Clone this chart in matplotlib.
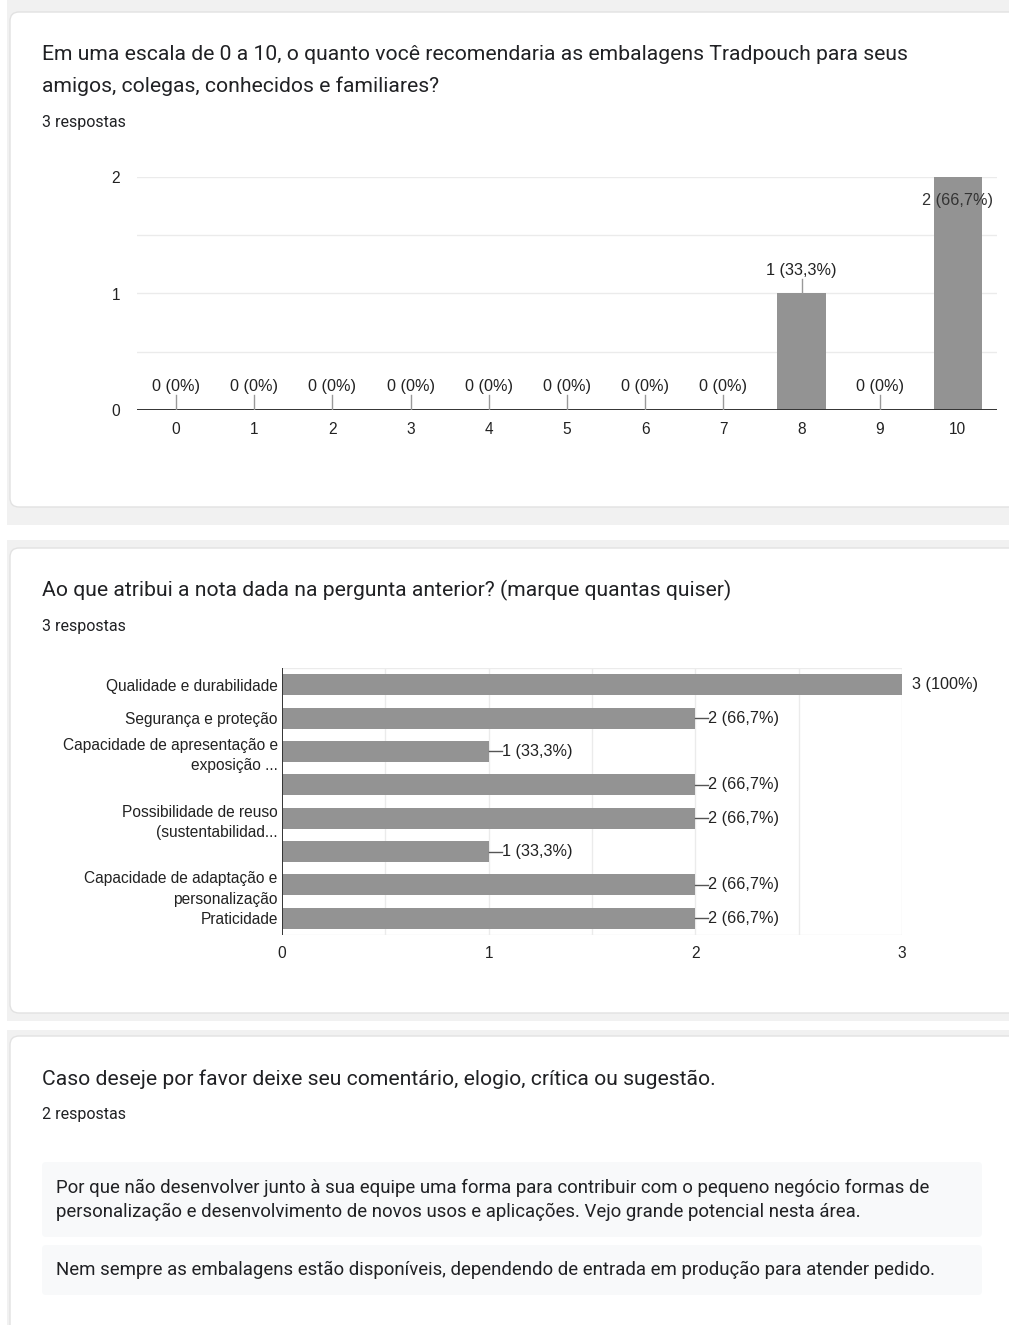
import matplotlib
matplotlib.use("Agg")
import matplotlib.pyplot as plt
from matplotlib.patches import FancyBboxPatch, Rectangle

# --- data -------------------------------------------------------------------
q1_title = ["Em uma escala de 0 a 10, o quanto você recomendaria as embalagens Tradpouch para seus",
            "amigos, colegas, conhecidos e familiares?"]
q1_count = "3 respostas"
q1_scores = list(range(11))
q1_values = [0, 0, 0, 0, 0, 0, 0, 0, 1, 0, 2]
q1_labels = ["0 (0%)"] * 8 + ["1 (33,3%)", "0 (0%)", "2 (66,7%)"]

q2_title = "Ao que atribui a nota dada na pergunta anterior? (marque quantas quiser)"
q2_count = "3 respostas"
q2_categories = ["Qualidade e durabilidade",
                 "Segurança e proteção",
                 "Capacidade de apresentação e\nexposição ...",
                 "",
                 "Possibilidade de reuso\n(sustentabilidad...",
                 "",
                 "Capacidade de adaptação e\npersonalização",
                 "Praticidade"]
q2_values = [3, 2, 1, 2, 2, 1, 2, 2]
q2_labels = ["3 (100%)", "2 (66,7%)", "1 (33,3%)", "2 (66,7%)",
             "2 (66,7%)", "1 (33,3%)", "2 (66,7%)", "2 (66,7%)"]

q3_title = "Caso deseje por favor deixe seu comentário, elogio, crítica ou sugestão."
q3_count = "2 respostas"
q3_answers = ["Por que não desenvolver junto à sua equipe uma forma para contribuir com o pequeno negócio formas de\n"
              "personalização e desenvolvimento de novos usos e aplicações. Vejo grande potencial nesta área.",
              "Nem sempre as embalagens estão disponíveis, dependendo de entrada em produção para atender pedido."]

# --- figure -----------------------------------------------------------------
W, H = 1009, 1325
fig = plt.figure(figsize=(W / 100, H / 100), dpi=100, facecolor="white")

PT = 0.72  # px -> pt at 100 dpi
TITLE_FONT = ["Roboto", "DejaVu Sans"]
CHART_FONT = ["Liberation Sans", "DejaVu Sans"]
TXT = "#202124"
CH_TXT = "#222222"
BAR = "#939393"
GRID = "#ebebeb"
T_SIZE = 21.2 * PT
C_SIZE = 16 * PT
LAB_SIZE = 16.2 * PT
TICK_SIZE = 15.5 * PT


def px_axes(x0, y0, x1, y1, **kw):
    return fig.add_axes([x0 / W, 1 - y1 / H, (x1 - x0) / W, (y1 - y0) / H], **kw)


# background layer in pixel coordinates
bg = px_axes(0, 0, W, H)
bg.set_xlim(0, W)
bg.set_ylim(H, 0)
bg.axis("off")

for y0, y1 in [(0, 525), (540, 1021), (1030, H + 5)]:
    bg.add_patch(Rectangle((7, y0), W, y1 - y0, color="#f1f1f1", lw=0))
for y0, y1 in [(12, 507), (548, 1013), (1036, H + 20)]:
    bg.add_patch(FancyBboxPatch((10, y0), W + 20, y1 - y0,
                                boxstyle="round,pad=0,rounding_size=9",
                                fc="white", ec="#e2e2e2", lw=1))

# card texts
bg.text(42, 54, q1_title[0], fontsize=T_SIZE, color=TXT, family=TITLE_FONT, va="center")
bg.text(42, 86, q1_title[1], fontsize=T_SIZE, color=TXT, family=TITLE_FONT, va="center")
bg.text(42, 122, q1_count, fontsize=C_SIZE, color=TXT, family=TITLE_FONT, va="center")

bg.text(42, 590, q2_title, fontsize=T_SIZE, color=TXT, family=TITLE_FONT, va="center")
bg.text(42, 627, q2_count, fontsize=C_SIZE, color=TXT, family=TITLE_FONT, va="center")

bg.text(42, 1079, q3_title, fontsize=T_SIZE, color=TXT, family=TITLE_FONT, va="center")
bg.text(42, 1115, q3_count, fontsize=C_SIZE, color=TXT, family=TITLE_FONT, va="center")

# response boxes
for (y0, y1), ans in zip([(1162, 1237), (1245, 1295)], q3_answers):
    bg.add_patch(FancyBboxPatch((42, y0), 940, y1 - y0,
                                boxstyle="round,pad=0,rounding_size=4",
                                fc="#f8f9fa", ec="none"))
    bg.text(56, (y0 + y1) / 2, ans, fontsize=18.6 * PT, color=TXT, family=TITLE_FONT,
            va="center", linespacing=1.42)

# --- chart 1: vertical columns ---------------------------------------------
ax1 = px_axes(137, 177, 997, 410)
ax1.patch.set_visible(False)
ax1.set_xlim(-0.5, 10.5)
ax1.set_ylim(0, 2)
ax1.bar(q1_scores, q1_values, width=0.62, color=BAR, zorder=2)
for g in [0.5, 1, 1.5, 2]:
    ax1.axhline(g, color=GRID, lw=1, zorder=1)
ax1.axhline(0, color="#333333", lw=1.4, zorder=3)
for s in ax1.spines.values():
    s.set_visible(False)
ax1.set_yticks([0, 1, 2])
ax1.set_xticks(q1_scores)
ax1.tick_params(length=0, labelsize=TICK_SIZE, colors=CH_TXT)
ax1.tick_params(axis="y", pad=12)
ax1.tick_params(axis="x", pad=9)
for lab in ax1.get_xticklabels() + ax1.get_yticklabels():
    lab.set_family(CHART_FONT)

u1 = 2 / 233.0  # data units per pixel
vmax1 = max(q1_values)
for x, v, lab in zip(q1_scores, q1_values, q1_labels):
    if v == vmax1:
        ax1.text(x, v - 24 * u1, lab, ha="center", va="center", fontsize=LAB_SIZE,
                 color="#333333", family=CHART_FONT, zorder=4)
    else:
        ax1.plot([x, x], [v, v + 15 * u1], color="#999999", lw=1, zorder=3)
        ax1.text(x, v + 23 * u1, lab, ha="center", va="center", fontsize=LAB_SIZE,
                 color=CH_TXT, family=CHART_FONT, zorder=4)

# --- chart 2: horizontal bars ----------------------------------------------
ax2 = px_axes(282, 668, 902, 935)
ax2.patch.set_visible(False)
pos = list(range(len(q2_categories)))
ax2.set_xlim(0, 3)
ax2.set_ylim(len(pos) - 0.5, -0.5)
ax2.barh(pos, q2_values, height=0.63, color=BAR, zorder=2)
for g in [0.5, 1, 1.5, 2, 2.5, 3]:
    ax2.axvline(g, color=GRID, lw=1, zorder=1)
ax2.axhline(-0.5, color=GRID, lw=1, zorder=1)
ax2.axhline(len(pos) - 0.5, color=GRID, lw=1, zorder=1)
ax2.axvline(0, color="#333333", lw=1.4, zorder=3)
for s in ax2.spines.values():
    s.set_visible(False)
ax2.set_xticks([0, 1, 2, 3])
ax2.set_yticks(pos)
ax2.set_yticklabels(q2_categories, linespacing=1.45)
ax2.tick_params(length=0, labelsize=TICK_SIZE, colors=CH_TXT)
ax2.tick_params(axis="y", pad=3)
ax2.tick_params(axis="x", pad=8)
for lab in ax2.get_xticklabels() + ax2.get_yticklabels():
    lab.set_family(CHART_FONT)

u2 = 3 / 620.0
vmax2 = max(q2_values)
for y, v, lab in zip(pos, q2_values, q2_labels):
    if v == vmax2:
        ax2.text(v + 10 * u2, y, lab, ha="left", va="center", fontsize=LAB_SIZE,
                 color=CH_TXT, family=CHART_FONT, clip_on=False)
    else:
        ax2.plot([v, v + 13 * u2], [y, y], color="#555555", lw=1, zorder=3)
        ax2.text(v + 13 * u2, y, lab, ha="left", va="center", fontsize=LAB_SIZE,
                 color=CH_TXT, family=CHART_FONT, clip_on=False)

fig.savefig("out.png", dpi=100, facecolor="white")
